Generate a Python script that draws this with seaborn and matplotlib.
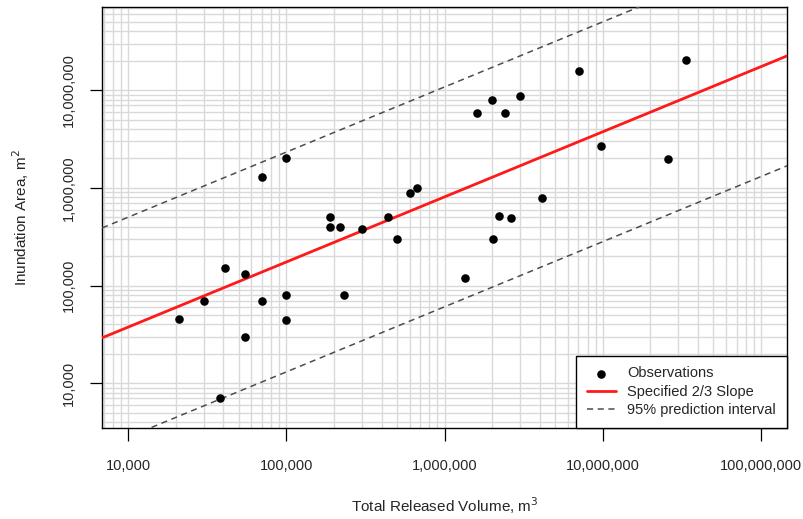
import numpy as np
import pandas as pd
import seaborn as sns
import matplotlib.pyplot as plt
from matplotlib.ticker import LogLocator, FuncFormatter, NullFormatter

volume = [21000, 30000, 41000, 38000, 55000, 55000, 70000, 70000, 100000, 100000,
          100000, 189000, 189000, 219000, 230000, 300000, 440000, 500000, 600000, 670000,
          1340000, 1600000, 2020000, 2000000, 2200000, 2400000, 2630000, 3000000, 4120000,
          7080000, 9800000, 25800000, 33500000]
area = [46000, 70000, 150000, 7000, 131000, 30000, 1300000, 70000, 2000000, 80000,
        44000, 500000, 400000, 400000, 80000, 378000, 500000, 300000, 880000, 1000000,
        119000, 5800000, 300000, 7900000, 515000, 5800000, 490000, 8700000, 785000,
        15700000, 2670000, 1970000, 20300000]

# fitted line: log10(A) = intercept + 2/3 log10(V), +/- prediction band (decades)
slope = 2 / 3
intercept = 1.908
band = 1.125

xlim = (6850, 1.46e8)
ylim = (3470, 7.1e7)

sns.set_style("white")
plt.rcParams['font.family'] = ['Liberation Sans', 'DejaVu Sans']

fig = plt.figure(figsize=(8.04, 5.19), dpi=100)
ax = fig.add_axes([0.127, 0.175, 0.852, 0.8115])
ax.set_xscale('log')
ax.set_yscale('log')

xs = np.geomspace(xlim[0], xlim[1], 50)
fit = pd.DataFrame({
    'x': xs,
    'mid': 10 ** (intercept + slope * np.log10(xs)),
    'hi': 10 ** (intercept + band + slope * np.log10(xs)),
    'lo': 10 ** (intercept - band + slope * np.log10(xs)),
})
obs = pd.DataFrame({'volume': volume, 'area': area})

sns.lineplot(data=fit, x='x', y='hi', ax=ax, color='#4d4d4d', lw=1.1,
             linestyle=(0, (4, 3)), label='95% prediction interval', zorder=3)
sns.lineplot(data=fit, x='x', y='lo', ax=ax, color='#4d4d4d', lw=1.1,
             linestyle=(0, (4, 3)), zorder=3)
sns.lineplot(data=fit, x='x', y='mid', ax=ax, color='#ff1a1a', lw=2,
             label='Specified 2/3 Slope', zorder=4)
sns.scatterplot(data=obs, x='volume', y='area', ax=ax, color='black', s=38,
                edgecolor='black', linewidth=0, label='Observations', zorder=5)

ax.set_xlim(*xlim)
ax.set_ylim(*ylim)

for axis in (ax.xaxis, ax.yaxis):
    axis.set_major_locator(LogLocator(base=10))
    axis.set_minor_locator(LogLocator(base=10, subs=np.arange(2, 10)))
    axis.set_minor_formatter(NullFormatter())
    axis.set_major_formatter(FuncFormatter(lambda v, p: f'{v:,.0f}'))

ax.grid(True, which='both', color='#d9d9d9', lw=1)
ax.set_axisbelow(True)
ax.tick_params(which='major', direction='out', length=9, width=0.9,
               color='black', labelsize=10.5, bottom=True, left=True)
ax.tick_params(which='minor', length=0)
ax.tick_params(axis='x', pad=13)
ax.tick_params(axis='y', pad=10)
for lab in ax.get_yticklabels():
    lab.set_rotation(90)
    lab.set_va('center')
for s in ax.spines.values():
    s.set_color('black')
    s.set_linewidth(1)

ax.set_xlabel('Total Released Volume, m$^3$', fontsize=11, labelpad=16)
ax.set_ylabel('Inundation Area, m$^2$', fontsize=11, labelpad=22)

handles, labels = ax.get_legend_handles_labels()
order = [labels.index('Observations'), labels.index('Specified 2/3 Slope'),
         labels.index('95% prediction interval')]
leg = ax.legend([handles[i] for i in order], [labels[i] for i in order],
                loc='lower right', fontsize=10.5, frameon=True, fancybox=False,
                edgecolor='black', framealpha=1, borderaxespad=0,
                handlelength=2.0, labelspacing=0.3, borderpad=0.75,
                handletextpad=0.8)
leg.get_frame().set_linewidth(1)

fig.savefig('out.png', dpi=100)
